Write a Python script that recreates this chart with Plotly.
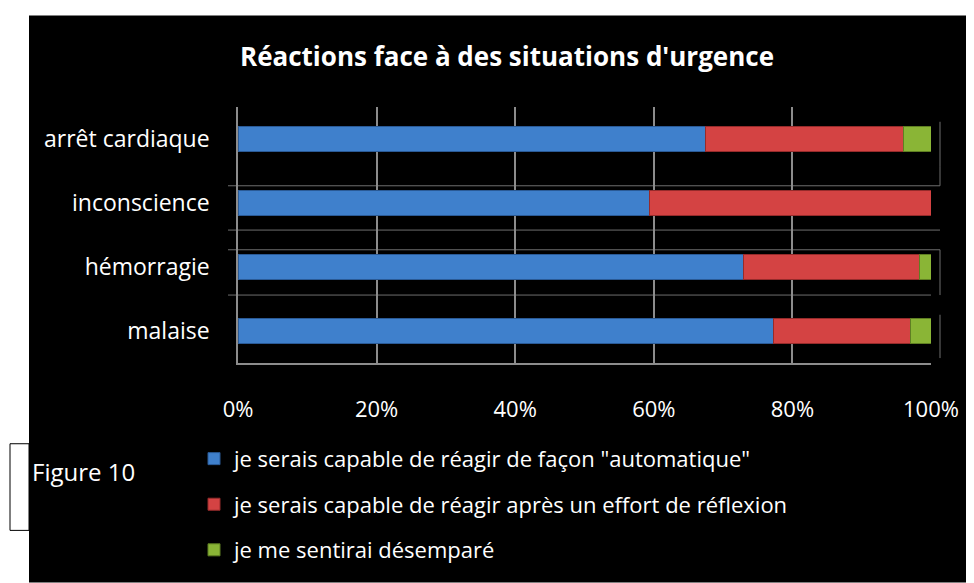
import plotly.graph_objects as go

# situations, top to bottom
situations = ["arrêt cardiaque", "inconscience", "hémorragie", "malaise"]
automatique = [0.675, 0.594, 0.729, 0.773]
reflexion = [0.285, 0.406, 0.254, 0.198]
desempare = [0.040, 0.0, 0.017, 0.029]

series_names = [
    'je serais capable de réagir de façon "automatique"',
    "je serais capable de réagir après un effort de réflexion",
    "je me sentirai désemparé",
]
series_colors = ["#3f80cc", "#d44343", "#8ab536"]
line_colors = ["#2a5a96", "#962b2b", "#5f7f22"]
x_ticks = [0, 0.2, 0.4, 0.6, 0.8, 1.0]
x_tick_labels = ["0%", "20%", "40%", "60%", "80%", "100%"]

# page has an 8px body margin, so the figure is drawn 8px in
OFF = 8
W, H = 974 - OFF, 583 - OFF
L, R, T, B = 238 - OFF, 931 - OFF, 107 - OFF, 367 - OFF


def px(x):
    return (x - OFF - L) / (R - L)


def py(y):
    return (B - (y - OFF)) / (B - T)


fig = go.Figure()
for i, vals in enumerate([automatique, reflexion, desempare]):
    fig.add_trace(go.Bar(
        y=situations, x=vals, orientation="h",
        name=series_names[i], legendgroup=str(i),
        marker=dict(color=series_colors[i], line=dict(color=line_colors[i], width=1)),
        width=0.4,
    ))

shapes = [
    # black chart area, white margins outside
    dict(type="rect", xref="paper", yref="paper", x0=px(29), x1=px(980), y0=py(14), y1=py(590),
         fillcolor="black", line=dict(width=0), layer="below"),
    # "Figure 10" box partially hidden by the chart
    dict(type="rect", xref="paper", yref="paper", x0=px(10), x1=px(29), y0=py(449), y1=py(537),
         fillcolor="white", line=dict(color="black", width=1), layer="below"),
]
for yy, x1 in [(187, 940), (232, 940), (252, 940), (298, 931)]:
    shapes.append(dict(type="line", xref="paper", yref="paper", x0=px(228), x1=px(x1),
                       y0=py(yy), y1=py(yy), line=dict(color="#6e6e6e", width=1), layer="below"))
for y0, y1 in [(122, 167), (167, 187), (252, 298), (318, 362)]:
    shapes.append(dict(type="line", xref="paper", yref="paper", x0=px(940), x1=px(940),
                       y0=py(y0), y1=py(y1), line=dict(color="#6e6e6e", width=1)))

fig.update_layout(
    width=W, height=H,
    margin=dict(l=L, r=W - R, t=T, b=H - B),
    paper_bgcolor="white",
    plot_bgcolor="#404040",
    barmode="stack",
    font=dict(family="Open Sans", color="white", size=22),
    title=dict(text="<b>Réactions face à des situations d'urgence</b>",
               x=px(507), xref="paper", xanchor="center",
               y=1 - (57 - OFF) / H, yanchor="middle",
               font=dict(family="Open Sans", size=26, color="white")),
    xaxis=dict(range=[0, 1], tickvals=x_ticks, ticktext=x_tick_labels,
               showgrid=True, gridcolor="#8c8c8c", gridwidth=1.5,
               zeroline=False, showline=True, linecolor="#8c8c8c", linewidth=1.5,
               ticks="", ticklabelstandoff=26, fixedrange=True,
               tickfont=dict(size=22)),
    yaxis=dict(autorange="reversed", showgrid=False, zeroline=False,
               showline=True, linecolor="#8c8c8c", linewidth=1.5,
               ticks="", ticklabelstandoff=22, fixedrange=True,
               tickfont=dict(size=23)),
    legend=dict(x=px(194), y=py(443), xanchor="left", yanchor="top",
                bgcolor="rgba(0,0,0,0)", font=dict(size=22, color="white"),
                traceorder="grouped", tracegroupgap=14, itemwidth=30),
    showlegend=True,
    shapes=shapes,
    annotations=[dict(text="Figure 10", xref="paper", yref="paper",
                      x=px(30), y=py(477), xanchor="left", yanchor="middle",
                      showarrow=False, font=dict(size=24, color="white"))],
)

fig.write_html("out.html")
